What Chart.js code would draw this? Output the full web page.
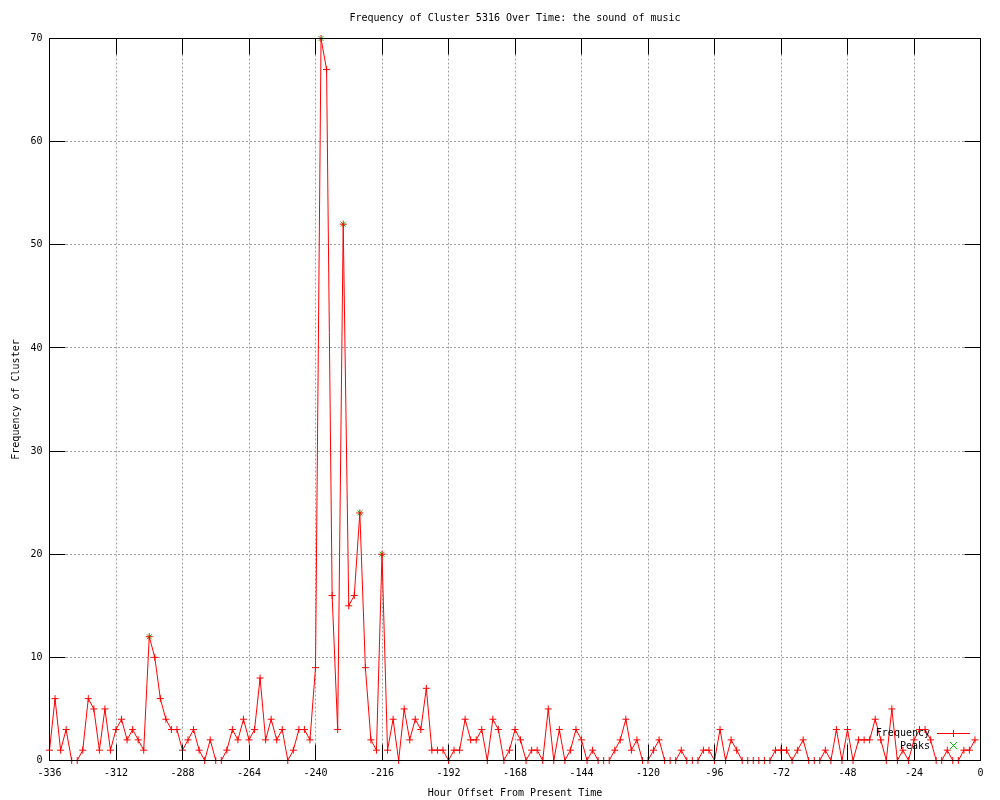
<!DOCTYPE html>
<html><head><meta charset="utf-8">
<script src="https://cdn.jsdelivr.net/npm/chart.js@4"></script>
<style>html,body{margin:0;padding:0;background:#fff}canvas{display:block}</style>
</head><body>
<canvas id="c" width="1000" height="800" style="width:1000px;height:800px"></canvas>
<script>
const TITLE = "Frequency of Cluster 5316 Over Time: the sound of music";
const X_TITLE = "Hour Offset From Present Time";
const Y_TITLE = "Frequency of Cluster";
const SERIES_FREQ = "Frequency";
const SERIES_PEAKS = "Peaks";

const hours = [
-336,-334,-332,-330,-328,-326,-324,-322,-320,-318,
-316,-314,-312,-310,-308,-306,-304,-302,-300,-298,
-296,-294,-292,-290,-288,-286,-284,-282,-280,-278,
-276,-274,-272,-270,-268,-266,-264,-262,-260,-258,
-256,-254,-252,-250,-248,-246,-244,-242,-240,-238,
-236,-234,-232,-230,-228,-226,-224,-222,-220,-218,
-216,-214,-212,-210,-208,-206,-204,-202,-200,-198,
-196,-194,-192,-190,-188,-186,-184,-182,-180,-178,
-176,-174,-172,-170,-168,-166,-164,-162,-160,-158,
-156,-154,-152,-150,-148,-146,-144,-142,-140,-138,
-136,-134,-132,-130,-128,-126,-124,-122,-120,-118,
-116,-114,-112,-110,-108,-106,-104,-102,-100,-98,
-96,-94,-92,-90,-88,-86,-84,-82,-80,-78,
-76,-74,-72,-70,-68,-66,-64,-62,-60,-58,
-56,-54,-52,-50,-48,-46,-44,-42,-40,-38,
-36,-34,-32,-30,-28,-26,-24,-22,-20,-18,
-16,-14,-12,-10,-8,-6,-4,-2
];
const frequency = [
1,6,1,3,0,0,1,6,5,1,
5,1,3,4,2,3,2,1,12,10,
6,4,3,3,1,2,3,1,0,2,
0,0,1,3,2,4,2,3,8,2,
4,2,3,0,1,3,3,2,9,70,
67,16,3,52,15,16,24,9,2,1,
20,1,4,0,5,2,4,3,7,1,
1,1,0,1,1,4,2,2,3,0,
4,3,0,1,3,2,0,1,1,0,
5,0,3,0,1,3,2,0,1,0,
0,0,1,2,4,1,2,0,0,1,
2,0,0,0,1,0,0,0,1,1,
0,3,0,2,1,0,0,0,0,0,
0,1,1,1,0,1,2,0,0,0,
1,0,3,0,3,0,2,2,2,4,
2,0,5,0,1,0,2,3,3,2,
0,0,1,0,0,1,1,2
];
const peakHours = [-300, -238, -230, -224, -216];
const peakValues = [12, 70, 52, 24, 20];

const xTickMin = -336, xTickMax = 0, xTickStep = 24;
const yTickMin = 0, yTickMax = 70, yTickStep = 10;

const FONT = "'DejaVu Sans Mono', 'Liberation Mono', monospace";
const RED = '#ff0000';
const GREEN = '#00c000';

Chart.defaults.font.family = FONT;
Chart.defaults.font.size = 10;
Chart.defaults.color = '#000';

function drawPlus(ctx, x, y, r, color) {
  ctx.strokeStyle = color; ctx.lineWidth = 1;
  ctx.beginPath();
  ctx.moveTo(x - r, y); ctx.lineTo(x + r, y);
  ctx.moveTo(x, y - r); ctx.lineTo(x, y + r);
  ctx.stroke();
}
function drawX(ctx, x, y, r, color) {
  ctx.strokeStyle = color; ctx.lineWidth = 1;
  ctx.beginPath();
  ctx.moveTo(x - r, y - r); ctx.lineTo(x + r, y + r);
  ctx.moveTo(x - r, y + r); ctx.lineTo(x + r, y - r);
  ctx.stroke();
}

const framePlugin = {
  id: 'frame',
  afterDatasetsDraw(chart) {
    const {ctx, chartArea: a, scales: {x, y}} = chart;
    ctx.save();
    ctx.strokeStyle = '#000';
    ctx.lineWidth = 1;
    ctx.setLineDash([]);
    ctx.strokeRect(a.left, a.top, a.right - a.left, a.bottom - a.top);
    const TL = 16;
    ctx.beginPath();
    for (const t of x.ticks) {
      const px = Math.floor(x.getPixelForValue(t.value)) + 0.5;
      ctx.moveTo(px, a.bottom); ctx.lineTo(px, a.bottom - TL);
      ctx.moveTo(px, a.top); ctx.lineTo(px, a.top + TL);
    }
    for (const t of y.ticks) {
      const py = Math.floor(y.getPixelForValue(t.value)) + 0.5;
      ctx.moveTo(a.left, py); ctx.lineTo(a.left + TL, py);
      ctx.moveTo(a.right, py); ctx.lineTo(a.right - TL, py);
    }
    ctx.stroke();

    // legend (gnuplot style, bottom-right inside the plot)
    ctx.font = '10px ' + FONT;
    ctx.fillStyle = '#000';
    ctx.textAlign = 'right';
    ctx.textBaseline = 'middle';
    const ds = chart.data.datasets;
    ctx.fillText(ds[0].label, 930, 733);
    ctx.fillText(ds[1].label, 930, 746);
    ctx.strokeStyle = RED;
    ctx.beginPath(); ctx.moveTo(937, 733.5); ctx.lineTo(970, 733.5); ctx.stroke();
    drawPlus(ctx, 953.5, 733.5, 3.5, RED);
    drawX(ctx, 953.5, 745.5, 3.5, GREEN);
    ctx.restore();
  }
};

new Chart(document.getElementById('c'), {
  type: 'line',
  data: {
    datasets: [
      {
        label: SERIES_FREQ,
        data: hours.map((h, i) => ({x: h, y: frequency[i]})),
        borderColor: RED,
        backgroundColor: RED,
        borderWidth: 1,
        tension: 0,
        fill: false,
        pointStyle: 'cross',
        pointRadius: 3.5,
        pointBorderWidth: 1,
        pointBorderColor: RED,
        pointHoverRadius: 3.5,
        clip: false
      },
      {
        label: SERIES_PEAKS,
        data: peakHours.map((h, i) => ({x: h, y: peakValues[i]})),
        showLine: false,
        borderColor: GREEN,
        backgroundColor: GREEN,
        pointStyle: 'crossRot',
        pointRadius: 3.5,
        pointBorderWidth: 1,
        pointBorderColor: GREEN,
        clip: false
      }
    ]
  },
  options: {
    responsive: false,
    animation: false,
    events: [],
    layout: {padding: {left: 0, right: 19.5, top: 0, bottom: 0}},
    plugins: {
      legend: {display: false},
      tooltip: {enabled: false},
      title: {
        display: true,
        text: TITLE,
        fullSize: false,
        color: '#000',
        font: {family: FONT, size: 10, weight: 'normal'},
        padding: {top: 12, bottom: 14.5}
      }
    },
    scales: {
      x: {
        type: 'linear',
        min: xTickMin, max: xTickMax,
        ticks: {stepSize: xTickStep, padding: 7, color: '#000', maxRotation: 0, autoSkip: false,
                font: {family: FONT, size: 10}},
        grid: {color: '#a0a0a0', lineWidth: 1, drawTicks: false},
        border: {display: false, dash: [2, 2]},
        title: {display: true, text: X_TITLE, color: '#000', font: {family: FONT, size: 10},
                padding: {top: 0, bottom: 1}},
        afterFit(s) { s.height = 39.5; }
      },
      y: {
        type: 'linear',
        min: yTickMin, max: yTickMax,
        ticks: {stepSize: yTickStep, padding: 7, color: '#000', font: {family: FONT, size: 10}},
        grid: {color: '#a0a0a0', lineWidth: 1, drawTicks: false},
        border: {display: false, dash: [2, 2]},
        title: {display: true, text: Y_TITLE, color: '#000', font: {family: FONT, size: 10},
                padding: {top: 10, bottom: 0}},
        afterFit(s) { s.width = 49.5; }
      }
    }
  },
  plugins: [framePlugin]
});
</script>
</body></html>
